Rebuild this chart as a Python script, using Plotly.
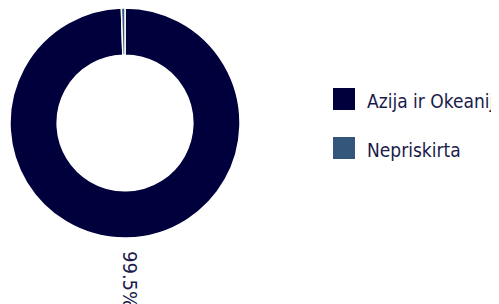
import math
import plotly.graph_objects as go

# Data
categories = ["Azija ir Okeanija", "Nepriskirta"]
values = [99.5, 0.5]
colors = ["#00003c", "#34567a"]
label_text = ["99.5%", ""]

W, H = 499, 304
FONT = "DejaVu Sans Condensed, DejaVu Sans, sans-serif"
TXT = "#1b1b4b"
OFF = 8  # page body margin

def px(x):
    return (x - OFF) / W

def py(y):
    return 1 - (y - OFF) / H

# Pie geometry in screen pixels (layout only)
cx, cy, R = 125, 123, 115

fig = go.Figure()
fig.add_trace(go.Pie(
    labels=categories,
    values=values,
    hole=0.59,
    sort=False,
    direction="clockwise",
    rotation=0,
    marker=dict(colors=colors, line=dict(color="white", width=1.5)),
    textinfo="none",
    hoverinfo="label+percent",
    showlegend=False,
    domain=dict(x=[px(cx - R), px(cx + R)], y=[py(cy + R), py(cy - R)]),
))

annotations = []
shapes = []

# Outside radial label for the big slice
total = sum(values)
cum = 0
for v, t in zip(values, label_text):
    mid = (cum + v / 2) / total * 2 * math.pi
    cum += v
    if not t:
        continue
    rr = R + 11
    lx = cx + rr * math.sin(mid)
    ly = cy - rr * math.cos(mid)
    annotations.append(dict(
        x=px(lx), y=py(ly), xref="paper", yref="paper",
        text=t, showarrow=False, textangle=90,
        xanchor="center", yanchor="top", xshift=2.5,
        font=dict(family=FONT, size=20, color=TXT),
    ))

# Legend (drawn manually to match large square swatches)
leg_x, leg_y0, leg_dy, sw = 333, 88, 49, 22
for i, (name, col) in enumerate(zip(categories, colors)):
    top = leg_y0 + i * leg_dy
    shapes.append(dict(
        type="rect", xref="paper", yref="paper",
        x0=px(leg_x), x1=px(leg_x + sw), y0=py(top + sw), y1=py(top),
        fillcolor=col, line=dict(width=0),
    ))
    annotations.append(dict(
        x=px(leg_x + sw + 10), y=py(top + sw / 2 + 2), xref="paper", yref="paper",
        text=name, showarrow=False, xanchor="left", yanchor="middle",
        font=dict(family=FONT, size=19, color=TXT),
    ))

fig.update_layout(
    width=W, height=H,
    margin=dict(l=0, r=0, t=0, b=0),
    paper_bgcolor="white",
    plot_bgcolor="white",
    annotations=annotations,
    shapes=shapes,
    showlegend=False,
)

fig.write_html("out.html")
